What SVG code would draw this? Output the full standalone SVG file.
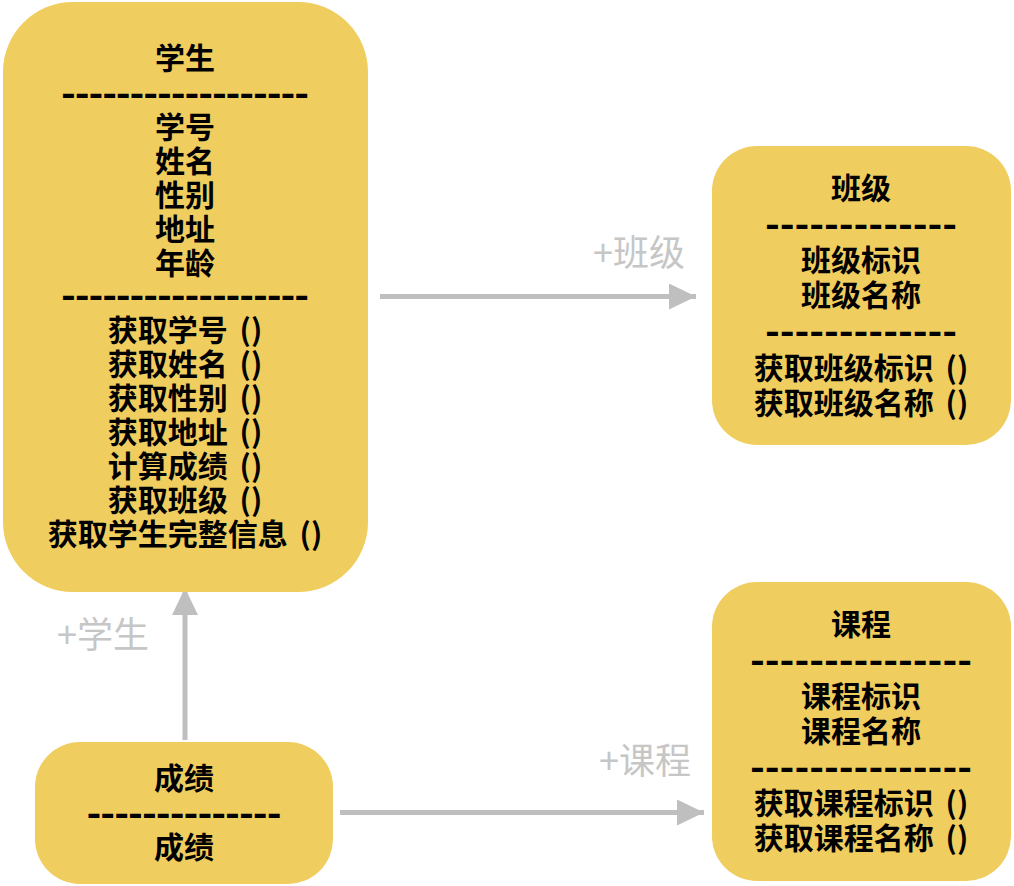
<svg xmlns="http://www.w3.org/2000/svg" width="1014" height="886" viewBox="0 0 1014 886">
<defs>
<style>
.node{fill:#F0CD5F;}
.t{font-family:"Noto Sans CJK SC","Noto Sans",sans-serif;font-weight:bold;font-size:30px;fill:#000;text-anchor:middle;dominant-baseline:central;}
.d{font-family:"Noto Sans CJK SC","Noto Sans",sans-serif;font-weight:bold;font-size:40px;fill:#000;text-anchor:middle;dominant-baseline:central;}
.lbl{font-family:"Noto Sans CJK SC","Noto Sans",sans-serif;font-size:36px;fill:#C6C6C6;text-anchor:middle;dominant-baseline:central;}
.edge{stroke:#BFBFBF;stroke-width:5;fill:none;}
</style>
<marker id="arr" markerUnits="userSpaceOnUse" markerWidth="28" markerHeight="26" refX="27" refY="13" orient="auto">
<path d="M0,0 L27,13 L0,26 Z" fill="#BFBFBF"/>
</marker>
</defs>
<rect width="1014" height="886" fill="#FFFFFF"/>

<g id="connectors">
<line class="edge" x1="380" y1="296.5" x2="696" y2="296.5" marker-end="url(#arr)"/>
<line class="edge" x1="185" y1="740" x2="185" y2="588" marker-end="url(#arr)"/>
<line class="edge" x1="340" y1="812.5" x2="704" y2="812.5" marker-end="url(#arr)"/>
<text class="lbl" x="639" y="250">+班级</text>
<text class="lbl" x="103" y="632">+学生</text>
<text class="lbl" x="645" y="758">+课程</text>
</g>

<g id="node-student">
<rect class="node" x="3" y="2" width="365" height="590" rx="70" ry="70"/>
<text class="t" x="185" y="56">学生</text>
<text class="d" x="185" y="90" textLength="248" lengthAdjust="spacing">------------------</text>
<text class="t" x="185" y="125">学号</text>
<text class="t" x="185" y="159">姓名</text>
<text class="t" x="185" y="193">性别</text>
<text class="t" x="185" y="227">地址</text>
<text class="t" x="185" y="261">年龄</text>
<text class="d" x="185" y="292" textLength="248" lengthAdjust="spacing">------------------</text>
<text class="t" x="185" y="328">获取学号 <tspan dx="5">()</tspan></text>
<text class="t" x="185" y="362">获取姓名 <tspan dx="5">()</tspan></text>
<text class="t" x="185" y="396">获取性别 <tspan dx="5">()</tspan></text>
<text class="t" x="185" y="430">获取地址 <tspan dx="5">()</tspan></text>
<text class="t" x="185" y="464">计算成绩 <tspan dx="5">()</tspan></text>
<text class="t" x="185" y="498">获取班级 <tspan dx="5">()</tspan></text>
<text class="t" x="185" y="532">获取学生完整信息 <tspan dx="5">()</tspan></text>
</g>

<g id="node-class">
<rect class="node" x="712" y="146" width="299" height="299" rx="45" ry="45"/>
<text class="t" x="861" y="186">班级</text>
<text class="d" x="861" y="221" textLength="192" lengthAdjust="spacing">-------------</text>
<text class="t" x="861" y="258">班级标识</text>
<text class="t" x="861" y="293">班级名称</text>
<text class="d" x="861" y="328" textLength="192" lengthAdjust="spacing">-------------</text>
<text class="t" x="861" y="366">获取班级标识 <tspan dx="5">()</tspan></text>
<text class="t" x="861" y="401">获取班级名称 <tspan dx="5">()</tspan></text>
</g>

<g id="node-course">
<rect class="node" x="712" y="582" width="299" height="299" rx="45" ry="45"/>
<text class="t" x="861" y="622">课程</text>
<text class="d" x="861" y="657" textLength="222" lengthAdjust="spacing">---------------</text>
<text class="t" x="861" y="694">课程标识</text>
<text class="t" x="861" y="729">课程名称</text>
<text class="d" x="861" y="764" textLength="222" lengthAdjust="spacing">---------------</text>
<text class="t" x="861" y="801">获取课程标识 <tspan dx="5">()</tspan></text>
<text class="t" x="861" y="836">获取课程名称 <tspan dx="5">()</tspan></text>
</g>

<g id="node-grade">
<rect class="node" x="35" y="742" width="298" height="142" rx="45" ry="45"/>
<text class="t" x="184" y="776">成绩</text>
<text class="d" x="184" y="810" textLength="195" lengthAdjust="spacing">--------------</text>
<text class="t" x="184" y="845">成绩</text>
</g>
</svg>
